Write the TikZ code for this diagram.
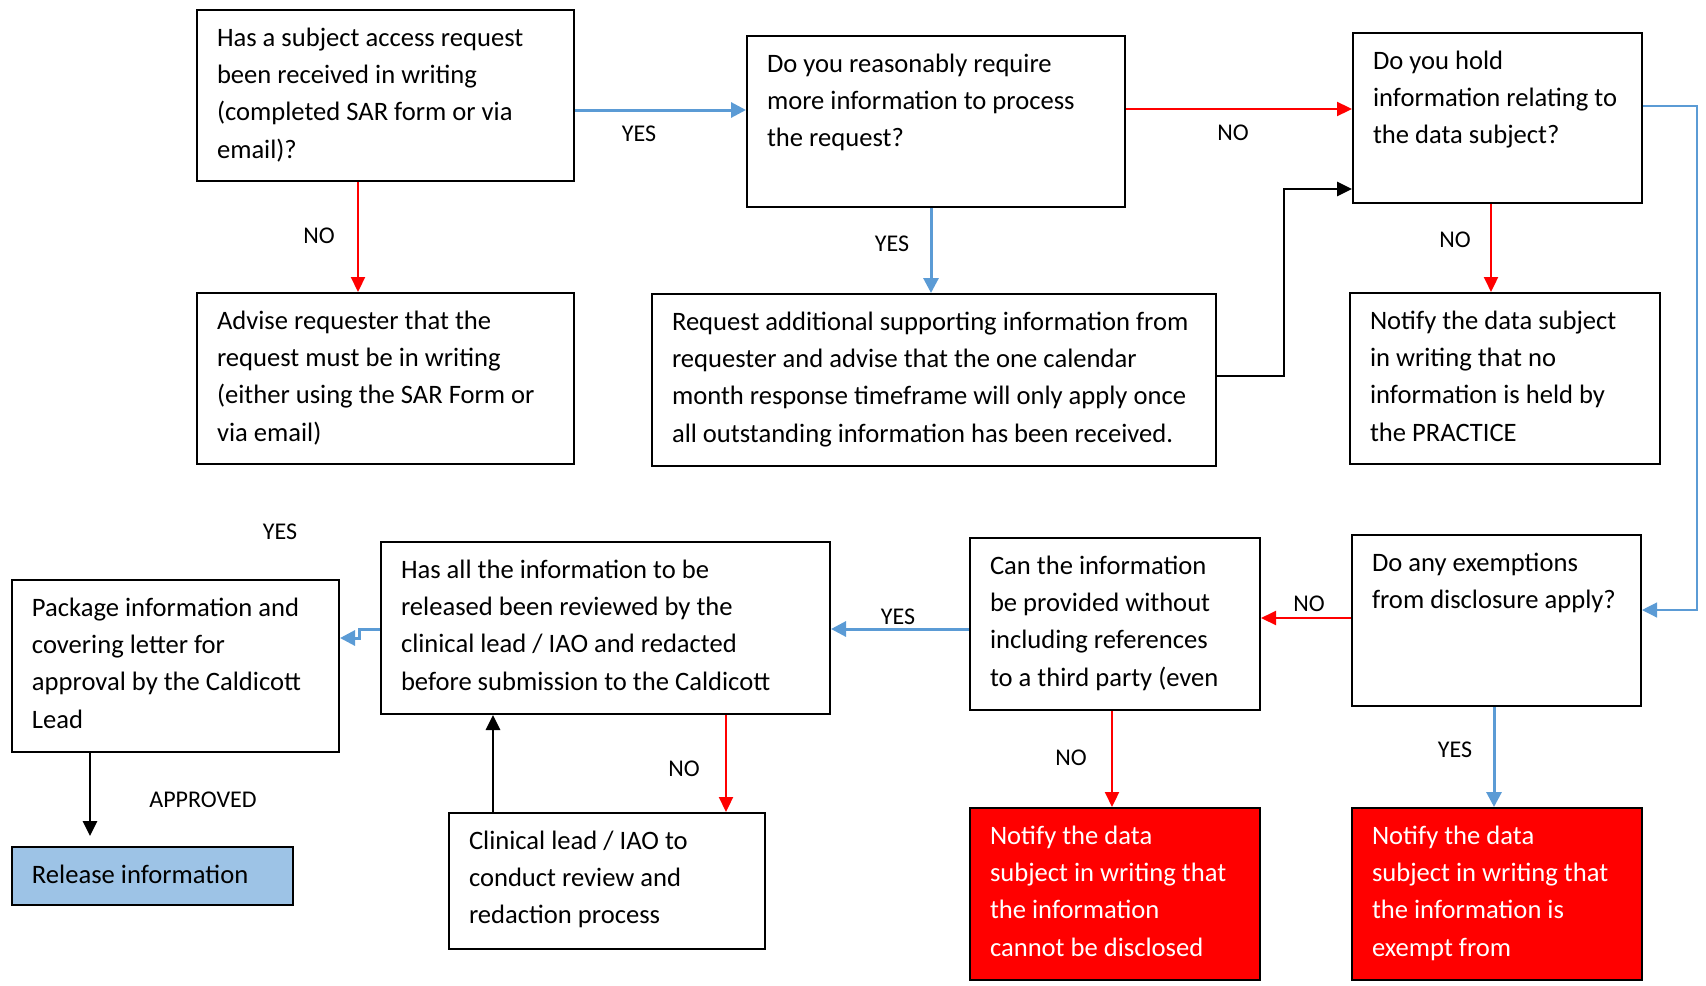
\documentclass[tikz,border=0pt]{standalone}
\usepackage{fontspec}
\setmainfont{Carlito}
\usetikzlibrary{arrows.meta}

\definecolor{lineblue}{HTML}{5B9BD5}
\definecolor{alertred}{HTML}{FF0000}
\definecolor{releaseblue}{HTML}{9DC3E6}

% box text: width and height in pixels, text top aligned
\newcommand{\cellbox}[3]{\parbox[c][\dimexpr #2pt/2\relax][t]{\dimexpr #1pt/2-20pt\relax}{\raggedright\rule{0pt}{18pt}#3}}

\tikzset{
	flow/.style = {draw, line width = 1pt, anchor = north west, inner xsep = 10pt, inner ysep = 0pt,
		font = \fontsize{13.3}{18.7}\selectfont},
	redbox/.style = {flow, fill = alertred, text = white},
	releasebox/.style = {flow, fill = releaseblue},
	yesarrow/.style = {draw = lineblue, line width = 1.5pt, -{Triangle[length = 7.5pt, width = 7.5pt]}},
	noarrow/.style = {draw = alertred, line width = 1.1pt, -{Triangle[length = 7.5pt, width = 7pt]}},
	okarrow/.style = {draw = black, line width = 1.4pt, -{Triangle[length = 7.5pt, width = 7pt]}},
	lab/.style = {font = \fontsize{12}{14}\selectfont, inner sep = 0pt}
}

\begin{document}
\begin{tikzpicture}[x = 0.5pt, y = -0.5pt]
	\useasboundingbox (0, 0) rectangle (1706, 985);
	% top row
	\node[flow] (sarreceived) at (196, 9) {\cellbox{377}{171}{Has a subject access request\\been received in writing\\(completed SAR form or via\\email)?}};
	\node[flow] (moreinfo) at (746, 35) {\cellbox{378}{171}{Do you reasonably require\\more information to process\\the request?}};
	\node[flow] (holdinfo) at (1352, 32) {\cellbox{289}{170}{Do you hold\\information relating to\\the data subject?}};
	% second row
	\node[flow] (advisewriting) at (196, 292) {\cellbox{377}{171}{Advise requester that the\\request must be in writing\\(either using the SAR Form or\\via email)}};
	\node[flow] (requestextra) at (651, 293) {\cellbox{564}{172}{Request additional supporting information from\\requester and advise that the one calendar\\month response timeframe will only apply once\\all outstanding information has been received.}};
	\node[flow] (noinfoheld) at (1349, 292) {\cellbox{310}{171}{Notify the data subject\\in writing that no\\information is held by\\the PRACTICE}};
	% third row
	\node[flow] (exemptions) at (1351, 534) {\cellbox{289}{171}{Do any exemptions\\from disclosure apply?}};
	\node[flow] (thirdparty) at (969, 537) {\cellbox{290}{172}{Can the information\\be provided without\\including references\\to a third party (even}};
	\node[flow] (reviewed) at (380, 541) {\cellbox{449}{172}{Has all the information to be\\released been reviewed by the\\clinical lead / IAO and redacted\\before submission to the Caldicott}};
	\node[flow] (package) at (11, 579) {\cellbox{327}{172}{Package information and\\covering letter for\\approval by the Caldicott\\Lead}};
	% bottom row
	\node[releasebox] (release) at (11, 846) {\cellbox{281}{58}{Release information}};
	\node[flow] (clinicalreview) at (448, 812) {\cellbox{316}{136}{Clinical lead / IAO to\\conduct review and\\redaction process}};
	\node[redbox] (notdisclosed) at (969, 807) {\cellbox{290}{172}{Notify the data\\subject in writing that\\the information\\cannot be disclosed}};
	\node[redbox] (exempt) at (1351, 807) {\cellbox{290}{172}{Notify the data\\subject in writing that\\the information is\\exempt from}};
	% connectors
	\draw[yesarrow] (sarreceived.east |- 0, 110) -- (moreinfo.west |- 0, 110);
	\draw[noarrow] (moreinfo.east |- 0, 109) -- (holdinfo.west |- 0, 109);
	\draw[noarrow] (sarreceived.south -| 358, 0) -- (advisewriting.north -| 358, 0);
	\draw[yesarrow] (moreinfo.south -| 931, 0) -- (requestextra.north -| 931, 0);
	\draw[okarrow] (requestextra.east |- 0, 376) -| (1284, 189) -- (holdinfo.west |- 0, 189);
	\draw[noarrow] (holdinfo.south -| 1491, 0) -- (noinfoheld.north -| 1491, 0);
	\draw[yesarrow, line width = 0.6pt] (holdinfo.east |- 0, 106) -| (1697, 610) -- (exemptions.east |- 0, 610);
	\draw[noarrow] (exemptions.west |- 0, 618) -- (thirdparty.east |- 0, 618);
	\draw[yesarrow] (exemptions.south -| 1494, 0) -- (exempt.north -| 1494, 0);
	\draw[noarrow] (thirdparty.south -| 1112, 0) -- (notdisclosed.north -| 1112, 0);
	\draw[yesarrow] (thirdparty.west |- 0, 629) -- (reviewed.east |- 0, 629);
	\draw[yesarrow] (reviewed.west |- 0, 629) -- (359, 629) -- (359, 638) -- (package.east |- 0, 638);
	\draw[noarrow] (reviewed.south -| 726, 0) -- (clinicalreview.north -| 726, 0);
	\draw[okarrow] (clinicalreview.north -| 493, 0) -- (reviewed.south -| 493, 0);
	\draw[okarrow, shorten > = 5pt] (package.south -| 90, 0) -- (release.north -| 90, 0);
	% labels
	\node[lab] (yesa) at (639, 134) {YES};
	\node[lab] (noa) at (1233, 133) {NO};
	\node[lab] (nob) at (319, 236) {NO};
	\node[lab] (yesb) at (892, 244) {YES};
	\node[lab] (noc) at (1455, 240) {NO};
	\node[lab] (nod) at (1309, 604) {NO};
	\node[lab] (yesc) at (1455, 750) {YES};
	\node[lab] (noe) at (1071, 758) {NO};
	\node[lab] (yesd) at (898, 617) {YES};
	\node[lab] (yese) at (280, 532) {YES};
	\node[lab] (nof) at (684, 769) {NO};
	\node[lab] (approved) at (203, 800) {APPROVED};
\end{tikzpicture}
\end{document}
